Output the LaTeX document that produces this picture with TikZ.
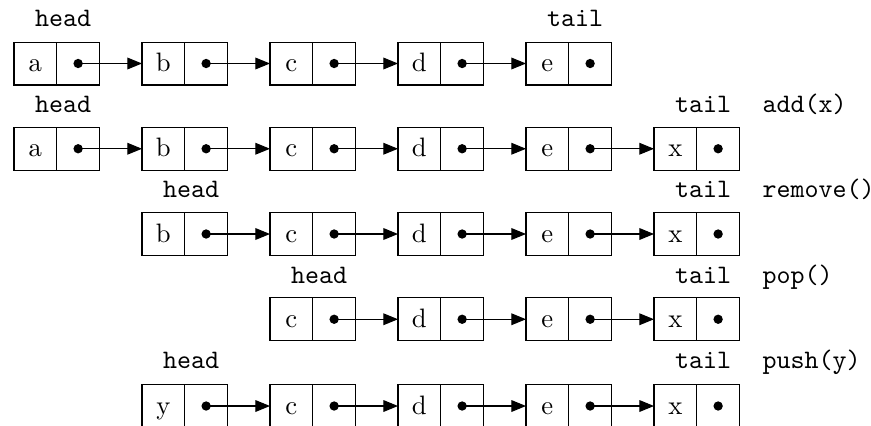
\documentclass[tikz,border=0pt]{standalone}
\usetikzlibrary{arrows.meta}
\begin{document}
\begin{tikzpicture}[x=0.375pt,y=-0.375pt,
  cell/.style={draw, line width=0.4pt, minimum width=16.03pt, minimum height=16.1pt,
    inner sep=0pt, outer sep=0pt, text height=7pt, text depth=1pt},
  arr/.style={line width=0.4pt, -{Triangle[length=5.5pt,width=4.4pt]}},
  lbl/.style={font=\ttfamily, anchor=base, inner sep=0pt},
  op/.style={font=\ttfamily, anchor=base west, inner sep=0pt},
  dot/.style={fill=black}]
\useasboundingbox (0,0) rectangle (871,425);
% row 1
\foreach \c/\l in {0/a,1/b,2/c,3/d,4/e}{
  \node[cell] (r1v\c) at ({35.375+128*\c},63.5) {\l};
  \node[cell] (r1p\c) at ({78.125+128*\c},63.5) {};
  \fill[dot] (r1p\c.center) circle[radius=1.75pt];
}
\foreach \c [evaluate=\c as \n using int(\c+1)] in {0,...,3}
  \draw[arr] (r1p\c.center) -- (r1v\n.west);
\node[lbl] (h1) at (63,27) {head};
\node[lbl] (t1) at (575,27) {tail};
% row 2
\foreach \c/\l in {0/a,1/b,2/c,3/d,4/e,5/x}{
  \node[cell] (r2v\c) at ({35.375+128*\c},148.75) {\l};
  \node[cell] (r2p\c) at ({78.125+128*\c},148.75) {};
  \fill[dot] (r2p\c.center) circle[radius=1.75pt];
}
\foreach \c [evaluate=\c as \n using int(\c+1)] in {0,...,4}
  \draw[arr] (r2p\c.center) -- (r2v\n.west);
\node[lbl] (h2) at (63,112) {head};
\node[lbl] (t2) at (703,112) {tail};
\node[op] (o2) at (762,112) {add(x)};
% row 3
\foreach \c/\l in {1/b,2/c,3/d,4/e,5/x}{
  \node[cell] (r3v\c) at ({35.375+128*\c},234) {\l};
  \node[cell] (r3p\c) at ({78.125+128*\c},234) {};
  \fill[dot] (r3p\c.center) circle[radius=1.75pt];
}
\foreach \c [evaluate=\c as \n using int(\c+1)] in {1,...,4}
  \draw[arr] (r3p\c.center) -- (r3v\n.west);
\node[lbl] (h3) at (191,197) {head};
\node[lbl] (t3) at (703,197) {tail};
\node[op] (o3) at (762,197) {remove()};
% row 4
\foreach \c/\l in {2/c,3/d,4/e,5/x}{
  \node[cell] (r4v\c) at ({35.375+128*\c},319.25) {\l};
  \node[cell] (r4p\c) at ({78.125+128*\c},319.25) {};
  \fill[dot] (r4p\c.center) circle[radius=1.75pt];
}
\foreach \c [evaluate=\c as \n using int(\c+1)] in {2,...,4}
  \draw[arr] (r4p\c.center) -- (r4v\n.west);
\node[lbl] (h4) at (319,283) {head};
\node[lbl] (t4) at (703,283) {tail};
\node[op] (o4) at (762,283) {pop()};
% row 5
\foreach \c/\l in {1/y,2/c,3/d,4/e,5/x}{
  \node[cell] (r5v\c) at ({35.375+128*\c},406) {\l};
  \node[cell] (r5p\c) at ({78.125+128*\c},406) {};
  \fill[dot] (r5p\c.center) circle[radius=1.75pt];
}
\foreach \c [evaluate=\c as \n using int(\c+1)] in {1,...,4}
  \draw[arr] (r5p\c.center) -- (r5v\n.west);
\node[lbl] (h5) at (191,368) {head};
\node[lbl] (t5) at (703,368) {tail};
\node[op] (o5) at (762,368) {push(y)};
\end{tikzpicture}
\end{document}
